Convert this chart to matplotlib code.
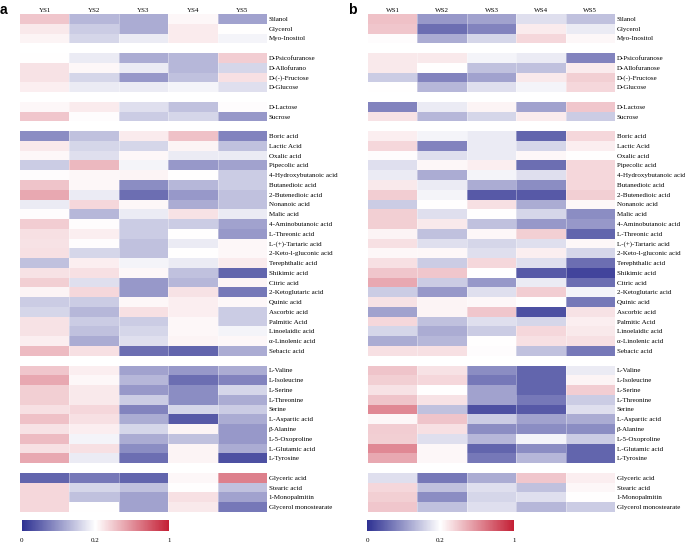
import numpy as np
import matplotlib
matplotlib.use('Agg')
import matplotlib.pyplot as plt
from matplotlib.colors import LinearSegmentedColormap, TwoSlopeNorm

# 化合物分組（組間留一空行）
group_names = [
    ['Silanol', 'Glycerol', 'Myo-Inositol'],
    ['D-Psicofuranose', 'D-Allofuranose', 'D-(-)-Fructose', 'D-Glucose'],
    ['D-Lactose', 'Sucrose'],
    ['Boric acid', 'Lactic Acid', 'Oxalic acid', 'Pipecolic acid',
     '4-Hydroxybutanoic acid', 'Butanedioic acid', '2-Butenedioic acid',
     'Nonanoic acid', 'Malic acid', '4-Aminobutanoic acid', 'L-Threonic acid',
     'L-(+)-Tartaric acid', '2-Keto-l-gluconic acid', 'Terephthalic acid',
     'Shikimic acid', 'Citric acid', '2-Ketoglutaric acid', 'Quinic acid',
     'Ascorbic acid', 'Palmitic Acid', 'Linoelaidic acid', 'α-Linolenic acid',
     'Sebacic acid'],
    ['L-Valine', 'L-Isoleucine', 'L-Serine', 'L-Threonine', 'Serine',
     'L-Aspartic acid', 'β-Alanine', 'L-5-Oxoproline', 'L-Glutamic acid',
     'L-Tyrosine'],
    ['Glyceric acid', 'Stearic acid', '1-Monopalmitin', 'Glycerol monostearate'],
]

ys_cols = ['YS1', 'YS2', 'YS3', 'YS4', 'YS5']
ws_cols = ['WS1', 'WS2', 'WS3', 'WS4', 'WS5']

ys_values = [
    [0.40, 0.13, 0.12, 0.23, 0.11],
    [0.28, 0.15, 0.12, 0.27, 0.20],
    [0.24, 0.16, 0.18, 0.27, 0.19],
    [0.20, 0.18, 0.12, 0.13, 0.38],
    [0.30, 0.23, 0.18, 0.13, 0.16],
    [0.30, 0.16, 0.10, 0.14, 0.31],
    [0.26, 0.18, 0.18, 0.19, 0.17],
    [0.23, 0.27, 0.17, 0.14, 0.21],
    [0.40, 0.21, 0.15, 0.16, 0.10],
    [0.09, 0.14, 0.27, 0.42, 0.08],
    [0.28, 0.16, 0.16, 0.24, 0.14],
    [0.23, 0.17, 0.23, 0.18, 0.18],
    [0.15, 0.45, 0.19, 0.10, 0.11],
    [0.21, 0.23, 0.24, 0.20, 0.15],
    [0.41, 0.23, 0.09, 0.13, 0.15],
    [0.51, 0.18, 0.06, 0.10, 0.14],
    [0.18, 0.34, 0.23, 0.12, 0.14],
    [0.21, 0.13, 0.18, 0.30, 0.18],
    [0.38, 0.21, 0.15, 0.15, 0.11],
    [0.31, 0.26, 0.15, 0.20, 0.10],
    [0.30, 0.21, 0.14, 0.18, 0.23],
    [0.31, 0.16, 0.14, 0.20, 0.23],
    [0.14, 0.26, 0.19, 0.18, 0.27],
    [0.30, 0.31, 0.23, 0.14, 0.05],
    [0.37, 0.17, 0.10, 0.13, 0.24],
    [0.24, 0.34, 0.10, 0.30, 0.07],
    [0.15, 0.15, 0.23, 0.26, 0.23],
    [0.16, 0.13, 0.31, 0.26, 0.15],
    [0.30, 0.15, 0.15, 0.23, 0.15],
    [0.30, 0.14, 0.16, 0.23, 0.19],
    [0.26, 0.12, 0.17, 0.24, 0.23],
    [0.44, 0.31, 0.06, 0.05, 0.12],
    [0.40, 0.26, 0.11, 0.10, 0.12],
    [0.51, 0.23, 0.13, 0.06, 0.08],
    [0.37, 0.28, 0.10, 0.09, 0.16],
    [0.37, 0.28, 0.15, 0.09, 0.12],
    [0.31, 0.34, 0.08, 0.16, 0.15],
    [0.42, 0.31, 0.12, 0.04, 0.12],
    [0.30, 0.26, 0.16, 0.24, 0.10],
    [0.44, 0.19, 0.12, 0.14, 0.10],
    [0.31, 0.31, 0.09, 0.24, 0.12],
    [0.51, 0.18, 0.06, 0.24, 0.03],
    [0.05, 0.07, 0.05, 0.23, 0.65],
    [0.34, 0.16, 0.14, 0.20, 0.14],
    [0.34, 0.14, 0.11, 0.31, 0.11],
    [0.34, 0.20, 0.11, 0.28, 0.07],
]

ws_values = [
    [0.42, 0.10, 0.11, 0.17, 0.14],
    [0.40, 0.06, 0.08, 0.27, 0.18],
    [0.21, 0.12, 0.16, 0.34, 0.23],
    [0.28, 0.28, 0.19, 0.18, 0.08],
    [0.28, 0.20, 0.14, 0.14, 0.27],
    [0.15, 0.08, 0.11, 0.28, 0.37],
    [0.20, 0.13, 0.17, 0.19, 0.34],
    [0.08, 0.18, 0.24, 0.11, 0.40],
    [0.30, 0.13, 0.16, 0.27, 0.15],
    [0.26, 0.19, 0.18, 0.05, 0.34],
    [0.34, 0.08, 0.18, 0.16, 0.26],
    [0.21, 0.17, 0.18, 0.23, 0.20],
    [0.17, 0.23, 0.26, 0.06, 0.34],
    [0.18, 0.12, 0.19, 0.17, 0.34],
    [0.28, 0.18, 0.12, 0.09, 0.34],
    [0.38, 0.19, 0.04, 0.04, 0.37],
    [0.15, 0.20, 0.31, 0.12, 0.23],
    [0.37, 0.17, 0.20, 0.16, 0.09],
    [0.37, 0.28, 0.14, 0.10, 0.10],
    [0.24, 0.14, 0.23, 0.37, 0.05],
    [0.31, 0.17, 0.16, 0.17, 0.23],
    [0.23, 0.23, 0.17, 0.26, 0.16],
    [0.31, 0.15, 0.34, 0.17, 0.06],
    [0.40, 0.40, 0.20, 0.04, 0.02],
    [0.51, 0.15, 0.10, 0.18, 0.06],
    [0.15, 0.10, 0.17, 0.38, 0.19],
    [0.30, 0.24, 0.23, 0.20, 0.07],
    [0.11, 0.24, 0.40, 0.03, 0.30],
    [0.34, 0.14, 0.17, 0.16, 0.26],
    [0.16, 0.12, 0.15, 0.34, 0.28],
    [0.12, 0.13, 0.20, 0.31, 0.31],
    [0.31, 0.31, 0.21, 0.14, 0.07],
    [0.41, 0.30, 0.09, 0.05, 0.18],
    [0.37, 0.34, 0.07, 0.05, 0.24],
    [0.30, 0.20, 0.11, 0.05, 0.38],
    [0.41, 0.30, 0.11, 0.07, 0.15],
    [0.62, 0.14, 0.03, 0.04, 0.17],
    [0.23, 0.41, 0.15, 0.11, 0.12],
    [0.38, 0.31, 0.09, 0.09, 0.09],
    [0.37, 0.17, 0.13, 0.19, 0.15],
    [0.62, 0.23, 0.05, 0.09, 0.05],
    [0.51, 0.23, 0.07, 0.13, 0.05],
    [0.17, 0.07, 0.12, 0.40, 0.26],
    [0.34, 0.14, 0.17, 0.14, 0.23],
    [0.37, 0.09, 0.16, 0.17, 0.20],
    [0.40, 0.14, 0.17, 0.13, 0.15],
]

cbar_ticks = [0, 0.2, 1]

plt.rcParams['font.family'] = ['Liberation Serif', 'DejaVu Serif']

cmap = LinearSegmentedColormap.from_list(
    'bwr_paper', ['#2e3192', '#ffffff', '#c41f35'])
norm = TwoSlopeNorm(vmin=0, vcenter=0.2, vmax=1)

FS = 5.0


def build_matrix(values):
    """把數值排成矩陣，組與組之間插入 NaN 空行"""
    rows, labels, idx = [], [], 0
    for gi, names in enumerate(group_names):
        if gi > 0:
            rows.append([np.nan] * 5)
            labels.append(None)
        for name in names:
            rows.append(values[idx])
            labels.append(name)
            idx += 1
    return np.ma.masked_invalid(np.array(rows, dtype=float)), labels


def draw_panel(fig, x0, cb_x0, letter, cols, values, rename=None):
    W, H = 685, 545
    ax = fig.add_axes([x0 / W, (H - 512) / H, 247 / W, 498 / H])
    mat, labels = build_matrix(values)
    if rename:
        labels = [rename.get(l, l) for l in labels]
    mesh = ax.pcolormesh(mat, cmap=cmap, norm=norm, linewidth=0)
    # 欄與欄之間的淡白線
    for xv in range(1, 5):
        ax.axvline(xv, color='white', lw=0.4, alpha=0.6)
    ax.set_xlim(0, 5)
    ax.set_ylim(len(labels), 0)
    ax.set_xticks(np.arange(5) + 0.5)
    ax.set_xticklabels(cols, fontsize=FS)
    ax.xaxis.tick_top()
    ypos = [i + 0.5 for i, l in enumerate(labels) if l is not None]
    ax.set_yticks(ypos)
    ax.set_yticklabels([l for l in labels if l is not None], fontsize=FS)
    ax.yaxis.tick_right()
    ax.tick_params(axis='x', length=0, pad=0.8)
    ax.tick_params(axis='y', length=0, pad=1.2)
    for s in ax.spines.values():
        s.set_visible(False)

    cax = fig.add_axes([cb_x0 / W, (H - 531) / H, 147 / W, 11 / H])
    cb = fig.colorbar(mesh, cax=cax, orientation='horizontal')
    cb.set_ticks(cbar_ticks)
    cb.set_ticklabels(['0', '0.2', '1'])
    cb.ax.tick_params(length=0, labelsize=FS, pad=5)
    cb.outline.set_visible(False)

    fig.text((x0 - 20) / W, 1 - 3 / H, letter, ha='left', va='top',
             fontsize=10, fontweight='bold', family='Liberation Sans')


fig = plt.figure(figsize=(6.85, 5.45), dpi=100)
draw_panel(fig, 20, 22, 'a', ys_cols, ys_values,
           rename={'D-Allofuranose': 'D-Allofurano'})
draw_panel(fig, 368, 367, 'b', ws_cols, ws_values)

fig.savefig('out.png', dpi=100)
